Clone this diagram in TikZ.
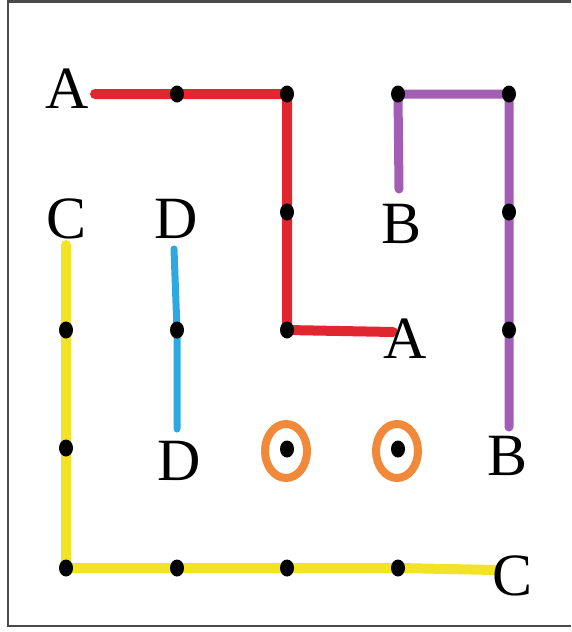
\documentclass[tikz,border=0pt]{standalone}
\usepackage{fontspec}
\setmainfont{Liberation Serif}
\usetikzlibrary{shapes.geometric,backgrounds}
\definecolor{pathred}{HTML}{E0262E}
\definecolor{pathpurple}{HTML}{A25DB4}
\definecolor{pathyellow}{HTML}{F2E326}
\definecolor{pathblue}{HTML}{2EA8E0}
\definecolor{eyeorange}{HTML}{F0893A}
\definecolor{framegray}{HTML}{4A4A4A}
\tikzset{
  dot/.style={ellipse, fill=black, inner sep=0pt, minimum width=14pt, minimum height=17pt},
  letter/.style={anchor=base, inner sep=0pt, font=\fontsize{60}{62}\selectfont},
  brush/.style={line width=#1, line cap=round, line join=round},
  ring/.style={draw=eyeorange, line width=8pt, ellipse, minimum width=42pt, minimum height=54pt, inner sep=0pt},
  pupil/.style={ellipse, fill=black, inner sep=0pt, minimum width=14pt, minimum height=17pt},
}
\begin{document}
\begin{tikzpicture}[x=1pt, y=-1pt]
  \useasboundingbox (0,0) rectangle (571,632);
  % frame
  \draw[framegray, line width=2.5pt] (571,1.5) -- (8,1.5) -- (8,626) -- (571,626);

  % grid dots
  \node[dot] (r1) at (177,94) {};
  \node[dot] (r2) at (287,94) {};
  \node[dot] (r3) at (287,212) {};
  \node[dot] (r4) at (287,330) {};
  \node[dot] (p1) at (398,94) {};
  \node[dot] (p2) at (509,94) {};
  \node[dot] (p3) at (509,212) {};
  \node[dot] (p4) at (509,330) {};
  \node[dot] (y1) at (66,330) {};
  \node[dot] (y2) at (66,448) {};
  \node[dot] (y3) at (66,568) {};
  \node[dot] (y4) at (177,568) {};
  \node[dot] (y5) at (287,568) {};
  \node[dot] (y6) at (398,568) {};
  \node[dot] (b1) at (177,330) {};

  % free ends of the strokes
  \coordinate (aStart) at (95,94);
  \coordinate (aEnd) at (393,332);
  \coordinate (bStart) at (399,189);
  \coordinate (bEnd) at (509,427);
  \coordinate (cStart) at (66,245);
  \coordinate (cEnd) at (495,570);
  \coordinate (dStart) at (174,249);
  \coordinate (dEnd) at (177,429);

  % coloured strokes, beneath the dots
  \begin{scope}[on background layer]
    \draw[brush=10pt, pathred] (aStart) -- (r1.center) -- (r2.center) -- (r3.center) -- (r4.center) -- (aEnd);
    \draw[brush=9pt, pathpurple] (bStart) -- (p1.center) -- (p2.center) -- (p3.center) -- (p4.center) -- (bEnd);
    \draw[brush=10pt, pathyellow] (cStart) -- (y1.center) -- (y2.center) -- (y3.center) -- (y4.center) -- (y5.center) -- (y6.center) -- (cEnd);
    \draw[brush=7pt, pathblue] (dStart) -- (b1.center) -- (dEnd);
  \end{scope}

  % eyes
  \node[ring] (eyeL) at (286,451) {};
  \node[ring] (eyeR) at (397,451) {};
  \node[pupil] (pupilL) at (287,449) {};
  \node[pupil] (pupilR) at (398,449) {};

  % letters
  \node[letter] (labA1) at (67,108) {A};
  \node[letter] (labA2) at (405,358) {A};
  \node[letter] (labB1) at (402,243) {B};
  \node[letter] (labB2) at (508,475) {B};
  \node[letter] (labC1) at (67,238) {C};
  \node[letter] (labC2) at (513,595) {C};
  \node[letter] (labD1) at (176,238) {D};
  \node[letter] (labD2) at (179,480) {D};
\end{tikzpicture}
\end{document}
